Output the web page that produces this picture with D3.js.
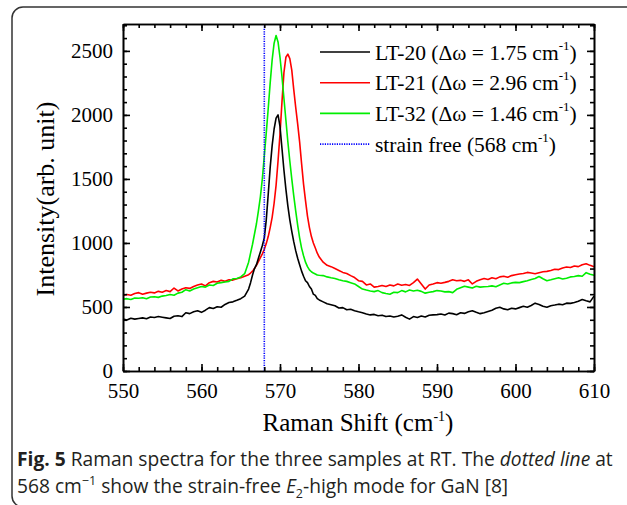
<!DOCTYPE html>
<html>
<head>
<meta charset="utf-8">
<script src="https://cdn.jsdelivr.net/npm/d3@7"></script>
<style>
  html, body { margin: 0; padding: 0; background: #fff; }
  svg { display: block; }
  .serif { font-family: "Liberation Serif", "Times New Roman", serif; }
  .axis path, .axis line { stroke: #000; stroke-width: 1.6; }
</style>
</head>
<body>
<div id="chart"></div>
<script>
// Raman shift sampling grid (cm-1)
const shift = [
  550, 550.5, 551, 551.5, 552, 552.5, 553, 553.5, 554, 554.5,
  555, 555.5, 556, 556.5, 557, 557.5, 558, 558.5, 559, 559.5,
  560, 560.5, 561, 561.5, 562, 562.5, 563, 563.5, 564, 564.5,
  565, 565.5, 566,
  566.25, 566.5, 566.75, 567, 567.25, 567.5, 567.75, 568, 568.25, 568.5,
  568.75, 569, 569.25, 569.5, 569.75, 570, 570.25, 570.5, 570.75, 571,
  571.25, 571.5, 571.75, 572, 572.25, 572.5, 572.75, 573, 573.25, 573.5,
  573.75, 574, 574.25, 574.5, 574.75, 575,
  575.5, 576, 576.5, 577, 577.5, 578, 578.5, 579, 579.5, 580,
  580.5, 581, 581.5, 582, 582.5, 583, 583.5, 584, 584.5, 585,
  585.5, 586, 586.5, 587, 587.5, 588, 588.5, 589, 589.5, 590,
  590.5, 591, 591.5, 592, 592.5, 593, 593.5, 594, 594.5, 595,
  595.5, 596, 596.5, 597, 597.5, 598, 598.5, 599, 599.5, 600,
  600.5, 601, 601.5, 602, 602.5, 603, 603.5, 604, 604.5, 605,
  605.5, 606, 606.5, 607, 607.5, 608, 608.5, 609, 609.5, 610
];

const lt20 = [
  405, 398, 412, 405, 410, 415, 408, 422, 418, 425,
  420, 415, 410, 428, 432, 425, 455, 448, 462, 470,
  458, 475, 495, 488, 502, 498, 520, 535, 540, 552,
  565, 585, 640,
  690, 750, 800, 830, 880, 930, 980, 1040, 1180, 1380,
  1590, 1760, 1890, 1975, 2000, 1910, 1740, 1570, 1420, 1290,
  1180, 1090, 1010, 940, 880, 830, 780, 740, 705, 690,
  660, 640, 600, 590, 565, 555,
  540, 525, 518, 510, 492, 495, 478, 482, 470, 462,
  455, 445, 438, 442, 432, 436, 425, 430, 422, 428,
  438, 420, 405, 425, 418, 430, 422, 435, 438, 440,
  445, 438, 452, 448, 440, 455, 450, 462, 470, 458,
  448, 455, 465, 475, 490, 498, 485, 478, 490, 485,
  495, 505, 498, 512, 530, 520, 505, 498, 510, 515,
  522, 518, 530, 528, 535, 545, 558, 548, 540, 585
];

const lt21 = [
  590, 598, 592, 605, 612, 600, 608, 615, 610, 622,
  615, 628, 620, 648, 625, 640, 650, 645, 660, 672,
  680, 665, 690, 700, 695, 708, 700, 712, 710, 720,
  728, 740, 752,
  765, 780, 800, 825, 855, 885, 915, 950, 995, 1050,
  1120, 1200, 1310, 1450, 1640, 1850, 2100, 2330, 2450, 2475,
  2440, 2350, 2200, 2060, 1930, 1790, 1620, 1460, 1330, 1210,
  1120, 1050, 1000, 960, 920, 890,
  850, 825, 815, 800, 785, 770, 762, 745, 730, 705,
  700, 672, 680, 655, 660, 668, 660, 672, 665, 680,
  670, 675, 668, 690, 718, 680, 640, 672, 680, 690,
  685, 692, 700, 712, 705, 708, 700, 712, 680, 700,
  712, 722, 715, 728, 720, 735, 740, 732, 745, 752,
  758, 762, 770, 765, 760, 768, 775, 778, 785, 795,
  792, 805, 812, 808, 820, 815, 830, 838, 825, 815
];

const lt32 = [
  560, 565, 558, 570, 568, 572, 565, 578, 580, 575,
  585, 590, 598, 592, 608, 615, 635, 625, 640, 650,
  660, 655, 672, 668, 685, 690, 695, 700, 720, 722,
  735, 760, 850,
  920, 990, 1070, 1150, 1250, 1360, 1500, 1680, 1860, 2050,
  2250, 2430, 2560, 2620, 2570, 2450, 2300, 2130, 1960, 1790,
  1640, 1500, 1370, 1250, 1140, 1040, 960, 900, 850, 815,
  790, 775, 765, 758, 750, 748,
  745, 735, 728, 722, 712, 705, 700, 690, 680, 660,
  640, 632, 625, 620, 628, 612, 605, 600, 615, 612,
  628, 618, 632, 625, 630, 622, 608, 615, 620, 628,
  625, 618, 620, 612, 638, 650, 662, 655, 648, 662,
  655, 658, 660, 665, 658, 672, 685, 680, 688, 692,
  690, 698, 705, 715, 722, 738, 720, 705, 712, 720,
  728, 718, 725, 735, 738, 745, 740, 768, 755, 748
];

const seriesNames = ["LT-20", "LT-21", "LT-32"];
const seriesWidths = ["1.75", "2.96", "1.46"];
const seriesColors = ["#000000", "#ff0000", "#00ee00"];
const strainFree = 568;

const xTicks = [550, 560, 570, 580, 590, 600, 610];
const yTicks = [0, 500, 1000, 1500, 2000, 2500];

const W = 627, H = 505;
const margin = { left: 123, right: 33, top: 24, bottom: 134 };
const iw = W - margin.left - margin.right, ih = H - margin.top - margin.bottom;

const svg = d3.select("#chart").append("svg").attr("width", W).attr("height", H);

// card outline
svg.append("rect").attr("x", 12).attr("y", 7).attr("width", 660).attr("height", 500)
  .attr("rx", 11).attr("fill", "none").attr("stroke", "#333").attr("stroke-width", 1.5);

const x = d3.scaleLinear().domain([550, 610]).range([0, iw]);
const y = d3.scaleLinear().domain([0, 2710]).range([ih, 0]);

const g = svg.append("g").attr("transform", `translate(${margin.left},${margin.top})`);

const xMinor = d3.range(550, 611, 2);
const yMinor = d3.range(0, 2710, 100);

// curves
const data = [lt20, lt21, lt32];
const line = d3.line().x(d => x(d[0])).y(d => y(d[1]));
[1, 2, 0].forEach(i => {
  g.append("path").datum(shift.map((s, k) => [s, data[i][k]]))
    .attr("d", line).attr("fill", "none")
    .attr("stroke", seriesColors[i]).attr("stroke-width", 1.6)
    .attr("stroke-linejoin", "round");
});

// strain-free marker
g.append("line").attr("x1", x(strainFree)).attr("x2", x(strainFree))
  .attr("y1", 0).attr("y2", ih)
  .attr("stroke", "#0000ff").attr("stroke-width", 1.6).attr("stroke-dasharray", "1.2,1.2");

// axes (ticks inward, mirrored)
function addAxis(axis, tr, minorAxis) {
  g.append("g").attr("class", "axis serif").attr("transform", tr).call(minorAxis);
  return g.append("g").attr("class", "axis serif").attr("transform", tr).call(axis);
}
const fmt = d3.format("d");
addAxis(d3.axisBottom(x).tickValues(xTicks).tickFormat(fmt).tickSize(-7).tickSizeOuter(0).tickPadding(12),
  `translate(0,${ih})`, d3.axisBottom(x).tickValues(xMinor).tickFormat("").tickSize(-4).tickSizeOuter(0));
addAxis(d3.axisTop(x).tickValues(xTicks).tickFormat("").tickSize(-7).tickSizeOuter(0), "",
  d3.axisTop(x).tickValues(xMinor).tickFormat("").tickSize(-4).tickSizeOuter(0));
addAxis(d3.axisLeft(y).tickValues(yTicks).tickFormat(fmt).tickSize(-7).tickSizeOuter(0).tickPadding(10), "",
  d3.axisLeft(y).tickValues(yMinor).tickFormat("").tickSize(-4).tickSizeOuter(0));
addAxis(d3.axisRight(y).tickValues(yTicks).tickFormat("").tickSize(-7).tickSizeOuter(0), `translate(${iw},0)`,
  d3.axisRight(y).tickValues(yMinor).tickFormat("").tickSize(-4).tickSizeOuter(0));

g.selectAll(".axis text").attr("font-size", 21).attr("fill", "#000")
  .attr("font-family", "'Liberation Serif', 'Times New Roman', serif");

// axis titles
const xt = svg.append("text").attr("class", "serif").attr("x", 358).attr("y", 431)
  .attr("text-anchor", "middle").attr("font-size", 25);
xt.append("tspan").text("Raman Shift (cm");
xt.append("tspan").attr("dy", -10).attr("font-size", 14).text("-1");
xt.append("tspan").attr("dy", 10).text(")");

svg.append("text").attr("class", "serif")
  .attr("transform", "translate(54,199) rotate(-90)")
  .attr("text-anchor", "middle").attr("font-size", 26).text("Intensity(arb. unit)");

// legend
const legendRows = [0, 1, 2, 3];
const lg = svg.append("g").attr("transform", "translate(320,52)");
legendRows.forEach(i => {
  const row = lg.append("g").attr("transform", `translate(0,${i * 30.7})`);
  const ln = row.append("line").attr("x1", 0).attr("x2", 50).attr("y1", 0).attr("y2", 0)
    .attr("stroke-width", 1.6);
  const t = row.append("text").attr("class", "serif").attr("x", 55).attr("y", 7.5).attr("font-size", 21.5);
  if (i < 3) {
    ln.attr("stroke", seriesColors[i]);
    t.append("tspan").text(`${seriesNames[i]} (\u0394\u03c9 = ${seriesWidths[i]} cm`);
  } else {
    ln.attr("stroke", "#0000ff").attr("stroke-dasharray", "1.2,1.2");
    t.append("tspan").text(`strain free (${strainFree} cm`);
  }
  t.append("tspan").attr("dy", -10).attr("font-size", 13).text("-1");
  t.append("tspan").attr("dy", 10).text(")");
});

// caption
const cap = svg.append("g").attr("font-family", "'Open Sans', 'Noto Sans', sans-serif")
  .attr("font-size", 19.2).attr("fill", "#231f20");
const c1 = cap.append("text").attr("x", 17).attr("y", 466);
c1.append("tspan").attr("font-weight", "bold").text("Fig. 5");
c1.append("tspan").text(" Raman spectra for the three samples at RT. The ");
c1.append("tspan").attr("font-style", "italic").text("dotted line");
c1.append("tspan").text(" at");
const c2 = cap.append("text").attr("x", 17).attr("y", 493);
c2.append("tspan").text("568 cm");
c2.append("tspan").attr("dy", -8).attr("font-size", 12.5).text("\u22121");
c2.append("tspan").attr("dy", 8).text(" show the strain-free ");
c2.append("tspan").attr("font-style", "italic").text("E");
c2.append("tspan").attr("dy", 5).attr("font-size", 12.5).text("2");
c2.append("tspan").attr("dy", -5).text("-high mode for GaN [8]");
</script>
</body>
</html>
